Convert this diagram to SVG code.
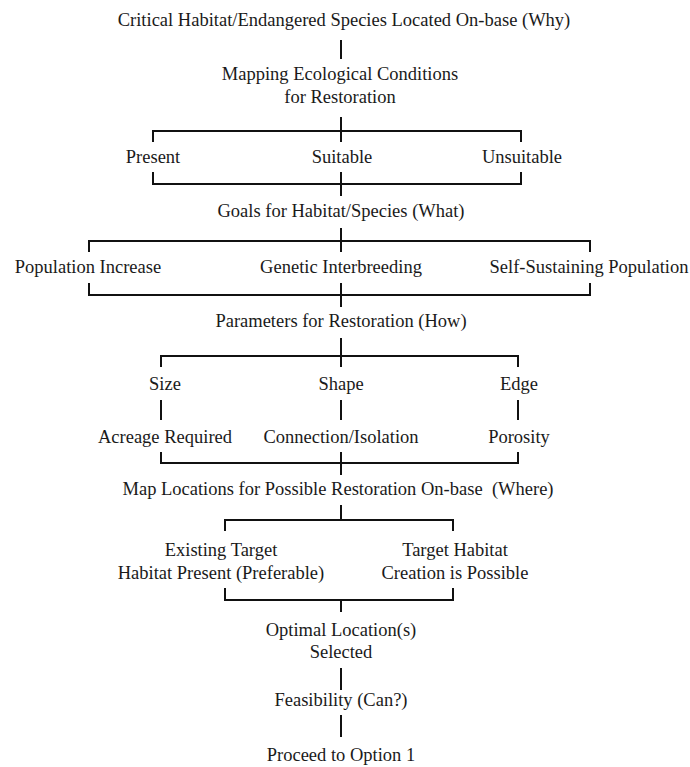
<svg xmlns="http://www.w3.org/2000/svg" width="690" height="767" viewBox="0 0 690 767">
<style>
text{font-family:"Liberation Serif","Times New Roman",serif;font-size:18.5px;fill:#1a1a1a;text-anchor:middle}
.pre{white-space:pre}
.c{stroke:#111;stroke-width:2;fill:none}
</style>
<rect width="690" height="767" fill="#fff"/>
<g id="connectors" class="c">
<path d="M341 40V59"/>
<path d="M341 117V142M153 142V131H521V142"/>
<path d="M153 172V184H521V172M341 172V196"/>
<path d="M341 228V252M89 252V241H590V252"/>
<path d="M89 283V295H590V283M341 283V307"/>
<path d="M341 338V367M161 367V356H518V367"/>
<path d="M161 400V420M341 400V420M518 400V420"/>
<path d="M161 452V463H518V452M341 452V475"/>
<path d="M341 505V520M225 531V520H453V531"/>
<path d="M225 588V600H453V588M341 600V612"/>
<path d="M341 668V690"/>
<path d="M341 715V737"/>
</g>
<g id="why"><text x="344" y="26">Critical Habitat/Endangered Species Located On-base (Why)</text></g>
<g id="mapping"><text x="340" y="80">Mapping Ecological Conditions</text><text x="340" y="103">for Restoration</text></g>
<g id="present"><text x="153" y="163">Present</text></g>
<g id="suitable"><text x="342" y="163">Suitable</text></g>
<g id="unsuitable"><text x="522" y="163">Unsuitable</text></g>
<g id="goals"><text x="341" y="217">Goals for Habitat/Species (What)</text></g>
<g id="population"><text x="88" y="273">Population Increase</text></g>
<g id="genetic"><text x="341" y="273">Genetic Interbreeding</text></g>
<g id="selfsustaining"><text x="589" y="273">Self-Sustaining Population</text></g>
<g id="parameters"><text x="341" y="327">Parameters for Restoration (How)</text></g>
<g id="size"><text x="165" y="390">Size</text></g>
<g id="shape"><text x="341" y="390">Shape</text></g>
<g id="edge"><text x="519" y="390">Edge</text></g>
<g id="acreage"><text x="165" y="443">Acreage Required</text></g>
<g id="connection"><text x="341" y="443">Connection/Isolation</text></g>
<g id="porosity"><text x="519" y="443">Porosity</text></g>
<g id="maplocations"><text class="pre" x="338" y="495" xml:space="preserve">Map Locations for Possible Restoration On-base  (Where)</text></g>
<g id="existing"><text x="221" y="556">Existing Target</text><text x="221" y="579">Habitat Present (Preferable)</text></g>
<g id="creation"><text x="455" y="556">Target Habitat</text><text x="455" y="579">Creation is Possible</text></g>
<g id="optimal"><text x="341" y="636">Optimal Location(s)</text><text x="341" y="658">Selected</text></g>
<g id="feasibility"><text x="341" y="706">Feasibility (Can?)</text></g>
<g id="proceed"><text x="341" y="761">Proceed to Option 1</text></g>
</svg>
